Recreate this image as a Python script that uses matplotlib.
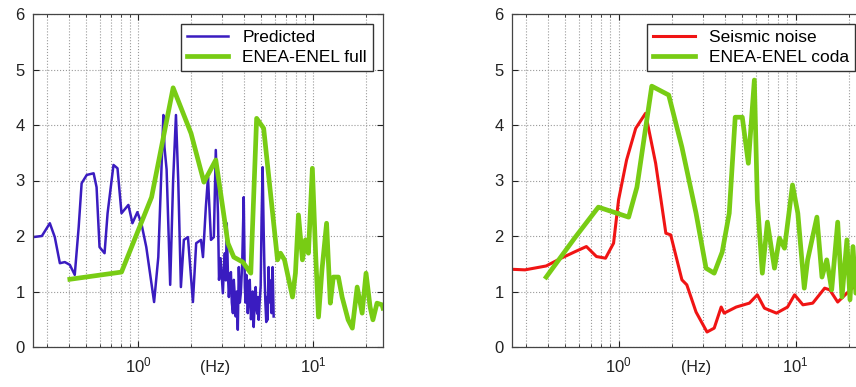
import matplotlib
matplotlib.use('Agg')
import matplotlib.pyplot as plt
from matplotlib.ticker import LogLocator, NullFormatter

plt.rcParams['font.family'] = ['Liberation Sans', 'DejaVu Sans']

# ---- left panel: predicted vs ENEA-ENEL full ----
pred_f = [0.25, 0.281, 0.312, 0.333, 0.356, 0.380, 0.406, 0.433, 0.456, 0.474,
          0.507, 0.555, 0.577, 0.600, 0.641, 0.667, 0.721, 0.760, 0.801, 0.877,
          0.925, 0.987, 1.04, 1.11, 1.23, 1.30, 1.39, 1.41, 1.45, 1.52,
          1.58, 1.64, 1.69, 1.75, 1.82, 1.92, 2.05, 2.14, 2.28, 2.34,
          2.43, 2.50, 2.53, 2.60, 2.70, 2.77, 2.85, 2.89, 2.95, 3.04,
          3.08, 3.12, 3.16, 3.20, 3.25, 3.29, 3.34, 3.38, 3.42, 3.47,
          3.51, 3.56, 3.60, 3.65, 3.70, 3.75, 3.80, 3.85, 3.92, 4.00,
          4.06, 4.10, 4.14, 4.18, 4.22, 4.28, 4.33, 4.40, 4.45, 4.50,
          4.56, 4.62, 4.68, 4.73, 4.78, 4.82, 4.87, 4.93, 5.00, 5.06,
          5.13, 5.20, 5.27, 5.32, 5.38, 5.43, 5.48, 5.55, 5.60, 5.66,
          5.72, 5.77, 5.85, 5.93]
pred_amp = [1.98, 2.00, 2.23, 1.98, 1.51, 1.53, 1.48, 1.30, 2.16, 2.95,
            3.10, 3.13, 2.88, 1.80, 1.69, 2.41, 3.28, 3.22, 2.41, 2.56,
            2.23, 2.43, 2.23, 1.80, 0.81, 1.62, 4.18, 3.60, 3.20, 1.12,
            3.00, 4.18, 3.00, 1.08, 1.93, 1.98, 0.81, 1.87, 1.93, 1.62,
            2.52, 3.06, 2.70, 1.93, 1.98, 3.55, 2.41, 1.21, 1.60, 0.97,
            1.40, 1.69, 1.20, 2.23, 1.30, 0.90, 1.30, 1.35, 0.80, 0.61,
            1.21, 0.90, 0.55, 1.00, 0.31, 1.44, 0.80, 0.97, 1.50, 2.70,
            1.08, 0.80, 1.30, 0.90, 0.61, 1.00, 1.21, 0.50, 0.70, 1.00,
            0.36, 0.80, 1.08, 0.70, 0.60, 0.90, 0.49, 0.80, 1.10, 2.30,
            3.24, 2.10, 1.21, 0.80, 0.45, 0.90, 0.49, 1.44, 0.90, 0.80,
            1.20, 0.61, 1.44, 0.55]

full_f = [0.406, 0.801, 1.19, 1.58, 2.00, 2.37, 2.77, 3.25, 3.51, 3.95,
          4.39, 4.74, 5.20, 5.85, 6.24, 6.49, 6.84, 7.60, 7.90, 8.22,
          8.66, 9.01, 9.37, 9.87, 10.3, 10.7, 11.2, 11.9, 12.5, 13.0,
          13.9, 14.6, 15.8, 16.7, 17.8, 19.0, 20.0, 21.1, 21.9, 23.1,
          24.7, 25.0]
full_amp = [1.22, 1.35, 2.70, 4.67, 3.85, 2.97, 3.37, 1.87, 1.62, 1.53,
            1.33, 4.12, 3.94, 2.41, 1.57, 1.69, 1.57, 0.90, 1.33, 2.38,
            1.57, 1.93, 1.69, 3.22, 1.69, 0.54, 1.39, 2.23, 0.79, 1.26,
            1.26, 0.90, 0.49, 0.34, 1.08, 0.61, 1.33, 0.72, 0.49, 0.79,
            0.76, 0.70]

# ---- right panel: seismic noise vs ENEA-ENEL coda ----
noise_f = [0.25, 0.296, 0.390, 0.474, 0.570, 0.658, 0.750, 0.844, 0.937, 1.00,
           1.11, 1.25, 1.42, 1.62, 1.85, 1.97, 2.28, 2.43, 2.74, 3.16,
           3.47, 3.80, 3.95, 4.62, 5.48, 6.08, 6.67, 7.80, 9.01, 9.87,
           11.0, 12.5, 14.6, 15.6, 17.3, 19.5, 21.9, 25.0]
noise_amp = [1.40, 1.39, 1.46, 1.60, 1.72, 1.81, 1.63, 1.60, 1.87, 2.65,
             3.37, 3.94, 4.21, 3.31, 2.05, 2.02, 1.21, 1.12, 0.63, 0.27,
             0.34, 0.72, 0.61, 0.72, 0.79, 0.94, 0.70, 0.61, 0.72, 0.94,
             0.76, 0.79, 1.06, 1.03, 0.81, 0.97, 1.12, 1.20]

coda_f = [0.390, 0.570, 0.769, 0.937, 1.14, 1.27, 1.54, 1.92, 2.28, 2.74,
          3.12, 3.47, 3.85, 4.22, 4.56, 5.00, 5.41, 5.85, 6.08, 6.49,
          6.93, 7.60, 8.11, 8.66, 9.61, 10.3, 11.2, 11.7, 13.2, 14.1,
          15.0, 16.0, 17.3, 18.3, 19.5, 20.3, 21.1, 21.9, 25.0]
coda_amp = [1.26, 1.98, 2.52, 2.43, 2.34, 2.88, 4.70, 4.54, 3.60, 2.41,
            1.42, 1.33, 1.71, 2.41, 4.14, 4.14, 3.31, 4.81, 2.65, 1.33,
            2.25, 1.42, 1.96, 1.78, 2.92, 2.41, 1.06, 1.57, 2.34, 1.26,
            1.57, 1.03, 2.25, 0.90, 1.93, 0.85, 1.81, 0.97, 1.10]

BLUE = '#3a1cc0'
GREEN = '#78cc14'
RED = '#f01414'

fig = plt.figure(figsize=(8.56, 3.87), dpi=100)
ax1 = fig.add_axes([33 / 856, 40 / 387, 350 / 856, 333 / 387])
ax2 = fig.add_axes([512 / 856, 40 / 387, 354 / 856, 333 / 387])


def style_axis(ax):
    ax.set_xscale('log')
    ax.set_xlim(0.25, 25)
    ax.set_ylim(0, 6)
    ax.set_yticks(range(7))
    ax.xaxis.set_major_locator(LogLocator(base=10, numticks=10))
    ax.xaxis.set_minor_locator(LogLocator(base=10, subs=range(2, 10), numticks=20))
    ax.xaxis.set_minor_formatter(NullFormatter())
    ax.grid(True, which='both', axis='x', linestyle=':', color='#9a9a9a', linewidth=0.8)
    ax.grid(True, which='major', axis='y', linestyle=':', color='#9a9a9a', linewidth=0.8)
    ax.tick_params(which='both', direction='in', top=True, right=True,
                   labelsize=12, colors='#222222')
    ax.tick_params(which='major', length=4, pad=6)
    ax.tick_params(which='minor', length=2)
    for s in ax.spines.values():
        s.set_color('#444444')
        s.set_linewidth(0.9)
    ax.text(0.52, -0.063, '(Hz)', transform=ax.transAxes, ha='center', va='center',
            fontsize=11.5, color='#222222')


style_axis(ax1)
style_axis(ax2)

ax1.plot(pred_f, pred_amp, color=BLUE, linewidth=1.8, label='Predicted')
ax1.plot(full_f, full_amp, color=GREEN, linewidth=3.4, label='ENEA-ENEL full')

ax2.plot(noise_f, noise_amp, color=RED, linewidth=2.2, label='Seismic noise')
ax2.plot(coda_f, coda_amp, color=GREEN, linewidth=3.4, label='ENEA-ENEL coda')

for ax, anchor in ((ax1, (0.971, 0.970)), (ax2, (0.969, 0.970))):
    leg = ax.legend(loc='upper right', bbox_to_anchor=anchor, borderaxespad=0,
                    fontsize=12.5, fancybox=False, framealpha=1,
                    handlelength=2.4, handletextpad=0.8, labelspacing=0.25,
                    borderpad=0.35)
    leg.get_frame().set_edgecolor('#333333')
    leg.get_frame().set_linewidth(1.0)

fig.savefig('out.png', dpi=100)
